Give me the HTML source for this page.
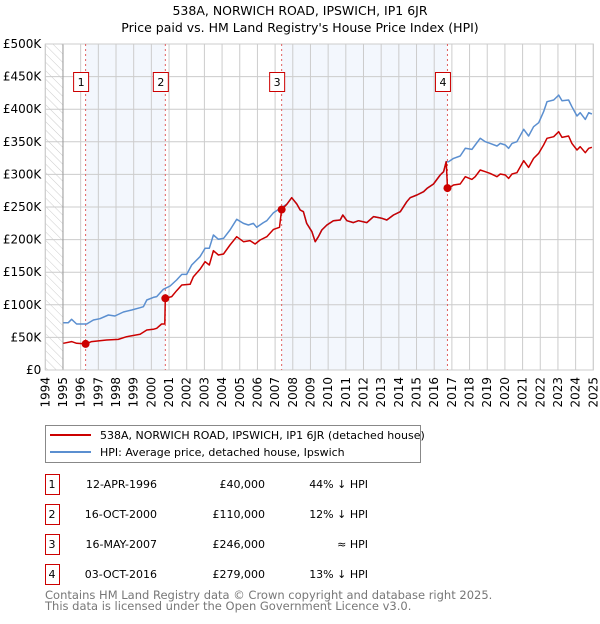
<!DOCTYPE html>
<html><head><meta charset="utf-8"><style>
body{margin:0;background:#fff;width:600px;height:620px;overflow:hidden;font-family:"DejaVu Sans","Liberation Sans",sans-serif}
svg text{font-family:"DejaVu Sans","Liberation Sans",sans-serif}
</style></head><body>
<svg id="c" width="600" height="620">
<defs><pattern id="hatch" width="6" height="6" patternUnits="userSpaceOnUse" patternTransform="rotate(-45)"><line x1="0" y1="0" x2="0" y2="6" stroke="#ccc" stroke-width="1"/></pattern></defs>
<text x="300" y="15" text-anchor="middle" font-size="12.5">538A, NORWICH ROAD, IPSWICH, IP1 6JR</text>
<text x="300" y="32" text-anchor="middle" font-size="12.5">Price paid vs. HM Land Registry's House Price Index (HPI)</text>
<g id="plot"></g>
<g>
<rect x="45.5" y="425.5" width="375" height="37" fill="#fff" stroke="#888"/>
<line x1="50" y1="435" x2="91" y2="435" stroke="#cc0000" stroke-width="2"/>
<text x="100" y="439" font-size="11">538A, NORWICH ROAD, IPSWICH, IP1 6JR (detached house)</text>
<line x1="50" y1="452" x2="91" y2="452" stroke="#5b8fd0" stroke-width="2"/>
<text x="100" y="456" font-size="11">HPI: Average price, detached house, Ipswich</text>
</g>
<g id="table" font-size="11"></g>
<text x="45" y="599" font-size="11.5" fill="#777">Contains HM Land Registry data © Crown copyright and database right 2025.</text>
<text x="45" y="610" font-size="11.5" fill="#777">This data is licensed under the Open Government Licence v3.0.</text>
</svg>
<script>
const yTicks=[0,50,100,150,200,250,300,350,400,450,500];
const yTickLabels=["£0","£50K","£100K","£150K","£200K","£250K","£300K","£350K","£400K","£450K","£500K"];
const xYears=[1994,1995,1996,1997,1998,1999,2000,2001,2002,2003,2004,2005,2006,2007,2008,2009,2010,2011,2012,2013,2014,2015,2016,2017,2018,2019,2020,2021,2022,2023,2024,2025];
const saleYears=[1996.28,2000.79,2007.37,2016.75];
const salePrices=[40,110,246,279];
const saleLabels=["1","2","3","4"];
const saleDates=["12-APR-1996","16-OCT-2000","16-MAY-2007","03-OCT-2016"];
const salePriceText=["£40,000","£110,000","£246,000","£279,000"];
const saleHpiText=["44% ↓ HPI","12% ↓ HPI","≈ HPI","13% ↓ HPI"];
const sharedYears=[2007.66,2007.94,2008.23,2008.42,2008.60,2008.79,2009.08,2009.27,2009.45,2009.64,2009.93,2010.30,2010.68,2010.83,2011.06,2011.43,2011.72,2012.19,2012.57,2013.04,2013.32,2013.70,2014.08,2014.45,2014.64,2015.02,2015.40,2015.59,2015.96,2016.34,2016.53,2016.68];
const sharedVals=[254.1,264.3,254.6,245.4,242.8,224.9,212.1,196.8,204.5,214.7,222.4,229.0,230.0,237.7,229.0,226.0,229.0,226.0,235.2,232.6,230.0,237.7,242.8,258.2,264.3,268.4,273.5,278.6,285.3,299.1,304.2,319.5];
const hpiPreYears=[1995.02,1995.30,1995.49,1995.77,1996.34,1996.72,1997.09,1997.57,1997.94,1998.42,1998.89,1999.36,1999.55,1999.74,2000.11,2000.30,2000.68,2001.06,2001.43,2001.72,2002.00,2002.28,2002.75,2003.04,2003.28,2003.51,2003.79,2004.08,2004.45,2004.83,2005.21,2005.49,2005.77,2005.96,2006.34,2006.53,2006.91,2007.28];
const hpiPreVals=[72.6,72.6,77.7,70.5,70.5,76.7,78.7,84.3,82.8,88.9,92.0,95.6,97.1,107.4,111.4,112.5,123.7,128.8,138.0,146.7,146.7,161.0,173.8,186.6,186.6,207.0,200.4,201.9,214.7,231.1,224.9,222.4,224.9,218.8,226.0,229.0,241.3,247.9];
const hpiPostYears=[2016.81,2017.09,2017.47,2017.76,2018.13,2018.32,2018.60,2018.89,2019.17,2019.55,2019.74,2020.02,2020.21,2020.40,2020.68,2021.06,2021.34,2021.62,2021.91,2022.19,2022.38,2022.76,2023.04,2023.23,2023.60,2023.79,2024.08,2024.26,2024.55,2024.74,2024.92];
const hpiPostVals=[319.5,324.6,328.2,340.0,338.4,345.1,355.3,350.2,347.6,343.5,347.6,345.1,340.0,347.6,350.2,369.1,358.9,373.2,379.3,396.2,411.5,414.1,421.7,413.0,414.1,403.8,389.5,394.6,384.4,394.6,392.6];
const redPreYears=[1995.02,1995.49,1995.77,1996.28,1996.62,1997.47,1998.13,1998.60,1999.36,1999.74,2000.11,2000.30,2000.58,2000.76,2000.79,2001.15,2001.43,2001.72,2002.19,2002.38,2002.75,2003.04,2003.28,2003.51,2003.79,2004.08,2004.45,2004.83,2005.21,2005.58,2005.87,2006.15,2006.53,2006.91,2007.25,2007.37];
const redPreVals=[40.9,43.5,40.9,40.0,43.5,46.0,47.0,51.1,54.7,61.3,62.4,63.9,70.5,70.5,110,112.5,121.7,130.4,131.4,143.1,154.4,166.1,161.0,183.0,176.4,177.9,191.7,204.5,196.8,198.4,193.2,199.4,204.5,215.7,218.8,246];
const redPostYears=[2016.75,2016.81,2017.09,2017.47,2017.76,2018.13,2018.32,2018.60,2018.89,2019.17,2019.55,2019.74,2020.02,2020.21,2020.40,2020.68,2021.06,2021.34,2021.62,2021.91,2022.19,2022.38,2022.76,2023.04,2023.23,2023.60,2023.79,2024.08,2024.26,2024.55,2024.74,2024.92];
const redPostVals=[279,278.6,283.7,285.3,296.5,292.4,296.5,306.7,304.2,301.6,296.5,300.6,299.1,293.9,300.6,302.6,321.0,310.8,324.6,332.3,345.1,355.3,357.8,365.5,356.8,358.9,347.6,337.4,342.5,333.3,340.0,341.5];

const NS="http://www.w3.org/2000/svg";
const X0=45.3,X1=593.3,Y0=370,Y1=44;
const xs=y=>X0+(y-1994)*(X1-X0)/31;
const ys=v=>Y0-v*(Y0-Y1)/500;
const plot=document.getElementById('plot');
function mk(tag,attrs,parent){const e=document.createElementNS(NS,tag);for(const k in attrs)e.setAttribute(k,attrs[k]);(parent||plot).appendChild(e);return e;}
// background
let e=mk('rect',{x:X0,y:Y1,width:X1-X0,height:Y0-Y1,fill:'#fff'});


e=mk('rect',{x:X0,y:Y1,width:xs(1995)-X0,height:Y0-Y1,fill:'url(#hatch)'});


[[0,1],[2,3]].forEach((p,i)=>{
 const r=mk('rect',{x:xs(saleYears[p[0]]),y:Y1,width:xs(saleYears[p[1]])-xs(saleYears[p[0]]),height:Y0-Y1,fill:'#eef3fc',opacity:0.7});
 
 
});
// grid
yTicks.forEach((v,i)=>{
 const l=mk('line',{x1:X0,x2:X1,y1:ys(v),y2:ys(v),stroke:'#ccc','stroke-width':1});
 
 
 const t=mk('text',{x:X0-4,y:ys(v)+4,'text-anchor':'end','font-size':12});
 t.textContent=yTickLabels[i];
 
 
});
xYears.forEach(yr=>{
 const l=mk('line',{x1:xs(yr),x2:xs(yr),y1:Y1,y2:Y0,stroke:'#ccc','stroke-width':1});
 
 
 const t=mk('text',{x:0,y:0,'text-anchor':'end','font-size':12,transform:`translate(${xs(yr)+4},${Y0+7}) rotate(-90)`});
 t.textContent=yr;
 
 
});
e=mk('line',{x1:xs(1995),x2:xs(1995),y1:Y1,y2:Y0,stroke:'#999'});


e=mk('rect',{x:X0,y:Y1,width:X1-X0,height:Y0-Y1,fill:'none',stroke:'#ccc'});


// sale vertical lines
saleYears.forEach((yr,i)=>{
 const l=mk('line',{x1:xs(yr),x2:xs(yr),y1:Y1,y2:Y0,stroke:'#e06060','stroke-dasharray':'2,3','stroke-width':1});
 
 
});
function path(xa,va,col,name){
 const d=xa.map((x,i)=>(i?'L':'M')+xs(x).toFixed(1)+','+ys(va[i]).toFixed(1)).join('');
 const p=mk('path',{d:d,fill:'none',stroke:col,'stroke-width':1.5,'stroke-linejoin':'round'});
 
 
}
path(hpiPreYears.concat(sharedYears,hpiPostYears),hpiPreVals.concat(sharedVals,hpiPostVals),'#5b8fd0','hpi-line');
path(redPreYears.concat(sharedYears,redPostYears),redPreVals.concat(sharedVals,redPostVals),'#cc0000','property-price-line');
saleYears.forEach((yr,i)=>{
 const c=mk('circle',{cx:xs(yr),cy:ys(salePrices[i]),r:4,fill:'#cc0000'});
 
 
 const b=mk('rect',{x:xs(yr)-12,y:72.5,width:15,height:19,fill:'#fff',stroke:'#cc0000'});
 
 
 const t=mk('text',{x:xs(yr)-4.5,y:86,'text-anchor':'middle','font-size':11});
 t.textContent=saleLabels[i];
 
 
});
// table
const tb=document.getElementById('table');
saleLabels.forEach((lab,i)=>{
 const cy=484+i*30;
 const b=mk('rect',{x:45.5,y:cy-9.5,width:14,height:20,fill:'#fff',stroke:'#cc0000'},tb);
 
 
 const cells=[[52,'middle',lab,'number'],[157,'end',saleDates[i],'date'],[265,'end',salePriceText[i],'price'],[368,'end',saleHpiText[i],'hpi-diff']];
 cells.forEach(c=>{
  const t=mk('text',{x:c[0],y:cy+4,'text-anchor':c[1]},tb);
  t.textContent=c[2];
  
  
 });
});
</script>
</body></html>
